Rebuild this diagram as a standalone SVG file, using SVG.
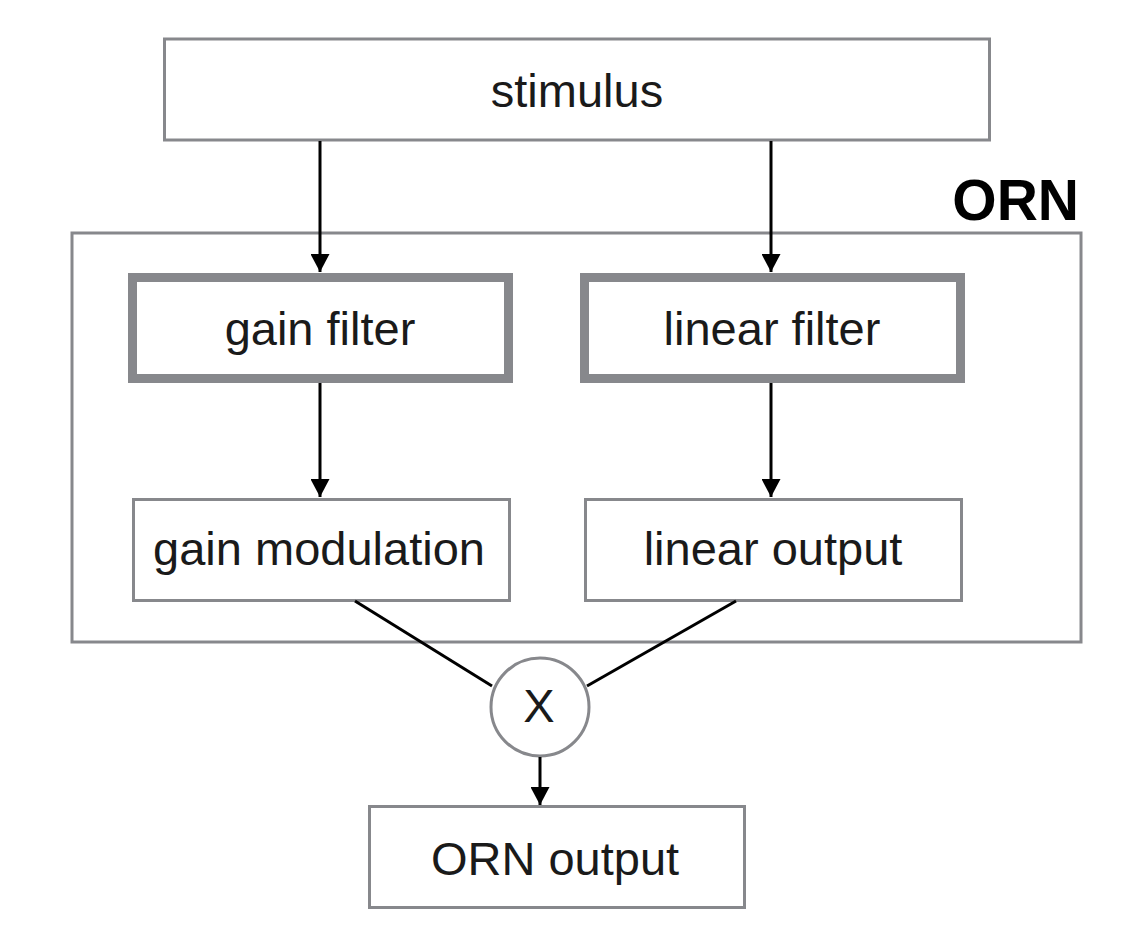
<svg xmlns="http://www.w3.org/2000/svg" width="1126" height="944" viewBox="0 0 1126 944">
<style>
.box{fill:#fff;stroke:#87888c;stroke-width:3}
.thick{fill:#fff;stroke:#87888c;stroke-width:9}
.lbl{font-family:"Liberation Sans",Arial,sans-serif;font-size:47px;fill:#1a1a1a;text-anchor:middle}
.con{stroke:#000;stroke-width:3;fill:none}
</style>
<defs>
<marker id="ah" viewBox="0 0 18 19" refX="18" refY="9.5" markerWidth="18" markerHeight="19" markerUnits="userSpaceOnUse" orient="auto">
<path d="M0,0 L18,9.5 L0,19 z" fill="#000"/>
</marker>
</defs>
<rect width="1126" height="944" fill="#fff"/>
<g id="orn">
<rect class="box" x="72" y="233" width="1009" height="409"/>
<text x="1079" y="220" font-family="'Liberation Sans',Arial,sans-serif" font-size="57" font-weight="bold" text-anchor="end" fill="#000">ORN</text>
</g>
<g id="stimulus">
<rect class="box" x="164.5" y="39" width="825" height="101"/>
<text class="lbl" x="577" y="107">stimulus</text>
</g>
<g id="gain-filter">
<rect class="thick" x="132.5" y="277.5" width="376" height="101"/>
<text class="lbl" x="320" y="345">gain filter</text>
</g>
<g id="linear-filter">
<rect class="thick" x="584.5" y="277.5" width="376" height="101"/>
<text class="lbl" x="772" y="345">linear filter</text>
</g>
<g id="gain-modulation">
<rect class="box" x="133.5" y="499.5" width="376" height="101"/>
<text class="lbl" x="319" y="565">gain modulation</text>
</g>
<g id="linear-output">
<rect class="box" x="585.5" y="499.5" width="376" height="101"/>
<text class="lbl" x="773" y="565">linear output</text>
</g>
<g id="multiply">
<circle cx="540" cy="707" r="49" fill="#fff" stroke="#87888c" stroke-width="3"/>
<text class="lbl" x="539" y="722">X</text>
</g>
<g id="orn-output">
<rect class="box" x="369.5" y="806.5" width="375" height="101"/>
<text class="lbl" x="555" y="875">ORN output</text>
</g>
<g id="connectors">
<line class="con" x1="320" y1="141" x2="320" y2="272" marker-end="url(#ah)"/>
<line class="con" x1="771" y1="141" x2="771" y2="272" marker-end="url(#ah)"/>
<line class="con" x1="320" y1="383" x2="320" y2="497" marker-end="url(#ah)"/>
<line class="con" x1="771" y1="383" x2="771" y2="497" marker-end="url(#ah)"/>
<line class="con" x1="355" y1="601" x2="492" y2="686"/>
<line class="con" x1="736" y1="601" x2="587" y2="686"/>
<line class="con" x1="540" y1="757" x2="540" y2="805" marker-end="url(#ah)"/>
</g>
</svg>
